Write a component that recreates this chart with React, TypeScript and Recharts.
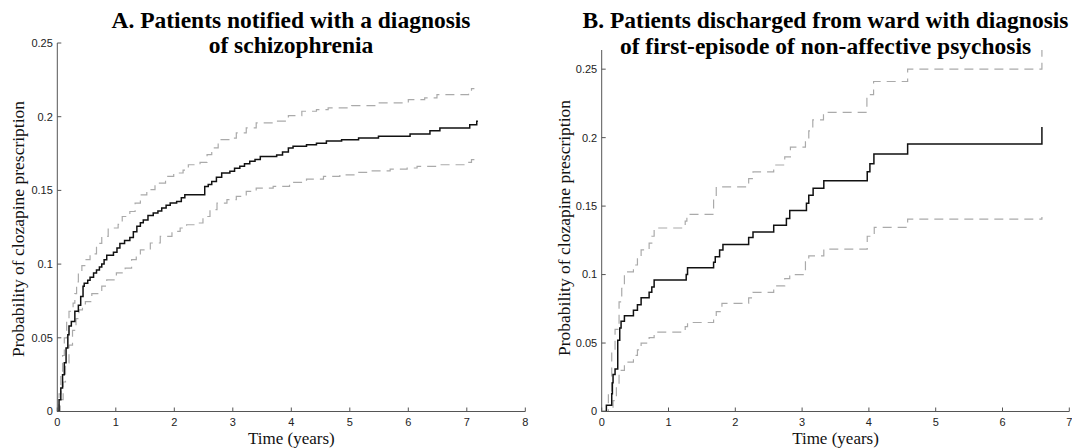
import React from 'react';
import { LineChart, Line, XAxis, YAxis } from 'recharts';

type Pt = [number, number];

// Panel A: patients notified with a diagnosis of schizophrenia
const aEstimate: Pt[] = [
  [0, 0], [0.03, 0.008], [0.06, 0.016], [0.09, 0.025], [0.12, 0.033], [0.15, 0.043], [0.18, 0.052],
  [0.2, 0.058], [0.24, 0.061], [0.3, 0.068], [0.36, 0.072], [0.4, 0.078], [0.44, 0.085], [0.46, 0.087],
  [0.52, 0.089], [0.56, 0.091], [0.62, 0.094], [0.67, 0.096], [0.72, 0.098], [0.76, 0.1], [0.8, 0.103],
  [0.845, 0.106], [0.96, 0.108], [1.02, 0.111], [1.07, 0.114], [1.15, 0.116], [1.24, 0.118], [1.3, 0.122],
  [1.36, 0.1256], [1.42, 0.128], [1.47, 0.13], [1.55, 0.133], [1.64, 0.1346], [1.72, 0.136], [1.785, 0.138],
  [1.86, 0.14], [1.93, 0.1414], [2.04, 0.1425], [2.12, 0.145], [2.18, 0.147], [2.52, 0.1527], [2.58, 0.154],
  [2.64, 0.156], [2.72, 0.159], [2.81, 0.1618], [2.95, 0.163], [3.03, 0.165], [3.12, 0.1663], [3.2, 0.168],
  [3.29, 0.1697], [3.38, 0.171], [3.47, 0.173], [3.75, 0.174], [3.85, 0.176], [3.95, 0.1788], [4.03, 0.18],
  [4.26, 0.181], [4.43, 0.182], [4.6, 0.1835], [4.86, 0.1844], [5.15, 0.1855], [5.49, 0.1867], [6.03, 0.1883],
  [6.37, 0.1905], [6.54, 0.1924], [7.05, 0.1946], [7.17, 0.1969], [7.19, 0.1969],
];
const aUpper: Pt[] = [
  [0, 0], [0.03, 0.012], [0.06, 0.025], [0.09, 0.038], [0.12, 0.05], [0.16, 0.062], [0.2, 0.068],
  [0.27, 0.0735], [0.3, 0.08], [0.33, 0.088], [0.36, 0.094], [0.42, 0.099], [0.47, 0.103], [0.56, 0.107],
  [0.67, 0.114], [0.76, 0.1188], [0.87, 0.1245], [1.04, 0.127], [1.11, 0.1323], [1.24, 0.1357], [1.33, 0.1414],
  [1.42, 0.147], [1.53, 0.1505], [1.67, 0.155], [1.85, 0.1595], [1.99, 0.1618], [2.15, 0.1637], [2.24, 0.1674],
  [2.44, 0.169], [2.56, 0.1743], [2.64, 0.1788], [2.75, 0.1844], [2.95, 0.1855], [3.06, 0.189], [3.23, 0.1924],
  [3.4, 0.1958], [3.69, 0.197], [3.95, 0.2007], [4.18, 0.2037], [4.43, 0.2048], [4.63, 0.206], [5.03, 0.2075],
  [5.46, 0.2094], [6.0, 0.2116], [6.28, 0.2128], [6.49, 0.215], [7.03, 0.2173], [7.08, 0.219], [7.13, 0.219],
];
const aLower: Pt[] = [
  [0, 0], [0.05, 0.008], [0.1, 0.02], [0.14, 0.033], [0.2, 0.045], [0.26, 0.055], [0.32, 0.063], [0.37, 0.069],
  [0.43, 0.073], [0.48, 0.0746], [0.59, 0.08], [0.76, 0.085], [0.845, 0.0893], [1.01, 0.094], [1.16, 0.0973],
  [1.27, 0.103], [1.35, 0.106], [1.42, 0.1097], [1.59, 0.1143], [1.76, 0.1188], [1.96, 0.1222], [2.1, 0.1245],
  [2.21, 0.1267], [2.41, 0.1279], [2.49, 0.1323], [2.61, 0.1369], [2.73, 0.1414], [2.9, 0.1437], [3.06, 0.1459],
  [3.23, 0.1493], [3.4, 0.1516], [3.69, 0.1527], [3.97, 0.1555], [4.26, 0.1577], [4.55, 0.1595], [4.83, 0.1606],
  [5.12, 0.1622], [5.37, 0.1633], [5.69, 0.1645], [5.98, 0.1652], [6.15, 0.1663], [6.49, 0.1674], [7.0, 0.169],
  [7.08, 0.1709], [7.13, 0.1709],
];

// Panel B: patients discharged with first-episode non-affective psychosis
const bEstimate: Pt[] = [
  [0, 0], [0.07, 0.0045], [0.15, 0.013], [0.16, 0.021], [0.17, 0.027], [0.2, 0.031], [0.24, 0.052],
  [0.27, 0.061], [0.29, 0.066], [0.34, 0.07], [0.475, 0.074], [0.535, 0.078], [0.59, 0.083], [0.71, 0.087],
  [0.75, 0.091], [0.785, 0.096], [1.265, 0.1], [1.285, 0.105], [1.675, 0.109], [1.7, 0.113], [1.765, 0.118],
  [1.815, 0.122], [2.2, 0.127], [2.265, 0.131], [2.575, 0.136], [2.765, 0.141], [2.815, 0.1468], [3.065, 0.152],
  [3.1, 0.158], [3.165, 0.163], [3.325, 0.1685], [3.975, 0.175], [4.015, 0.181], [4.075, 0.188], [4.58, 0.1953],
  [6.59, 0.2077],
];
const bUpper: Pt[] = [
  [0, 0], [0.1, 0.013], [0.15, 0.045], [0.2, 0.06], [0.26, 0.08], [0.3, 0.09], [0.34, 0.102], [0.475, 0.107],
  [0.535, 0.113], [0.59, 0.118], [0.71, 0.123], [0.75, 0.128], [0.785, 0.134], [1.25, 0.139], [1.275, 0.144],
  [1.675, 0.155], [1.715, 0.164], [2.2, 0.17], [2.265, 0.175], [2.575, 0.18], [2.74, 0.186], [2.825, 0.193],
  [3.05, 0.199], [3.1, 0.205], [3.16, 0.213], [3.32, 0.2184], [3.97, 0.2314], [4.07, 0.241], [4.58, 0.25],
  [6.59, 0.264],
];
const bLower: Pt[] = [
  [0, 0], [0.15, 0.0], [0.17, 0.008], [0.22, 0.02], [0.26, 0.03], [0.34, 0.036], [0.475, 0.041], [0.535, 0.045],
  [0.59, 0.05], [0.71, 0.054], [0.785, 0.058], [1.25, 0.062], [1.285, 0.065], [1.675, 0.069], [1.715, 0.073],
  [1.8, 0.079], [2.2, 0.083], [2.265, 0.087], [2.575, 0.0917], [2.74, 0.097], [2.815, 0.1], [3.05, 0.11],
  [3.1, 0.1137], [3.325, 0.1186], [3.975, 0.128], [4.08, 0.1344], [4.58, 0.1405], [6.59, 0.142],
];

const aXTicks = [0, 1, 2, 3, 4, 5, 6, 7, 8];
const bXTicks = [0, 1, 2, 3, 4, 5, 6, 7];
const yTicks = [0, 0.05, 0.1, 0.15, 0.2, 0.25];
const titleA = ['A. Patients notified with a diagnosis', 'of schizophrenia'];
const titleB = ['B. Patients discharged from ward with diagnosis', 'of first-episode of non-affective psychosis'];
const yLabel = 'Probability of clozapine prescription';
const xLabel = 'Time (years)';

const toRows = (pts: Pt[]) => pts.map(([x, y]) => ({ x, y }));

const AXIS = '#555';
const TICK_FONT = { fill: '#222', fontSize: 11, fontFamily: '"Liberation Sans", Arial, sans-serif' };
const SERIF = '"Liberation Serif", "Times New Roman", serif';

interface PanelProps {
  left: number;
  width: number;
  plotLeft: number;
  plotRight: number;
  plotTop: number;
  plotBottom: number;
  xMax: number;
  yMax: number;
  xTicks: number[];
  est: Pt[];
  up: Pt[];
  lo: Pt[];
}

function Panel(p: PanelProps) {
  return (
    <div style={{ position: 'absolute', left: p.left, top: 0 }}>
      <LineChart
        width={p.width}
        height={448}
        margin={{ top: p.plotTop, right: p.width - p.plotRight, bottom: 0, left: 0 }}
      >
        <XAxis
          type="number"
          dataKey="x"
          domain={[0, p.xMax]}
          ticks={p.xTicks}
          interval={0}
          height={448 - p.plotBottom}
          axisLine={{ stroke: AXIS }}
          tickLine={{ stroke: AXIS }}
          tickSize={-4}
          tickMargin={11}
          tick={TICK_FONT}
          allowDataOverflow
        />
        <YAxis
          type="number"
          domain={[0, p.yMax]}
          ticks={yTicks}
          interval={0}
          width={p.plotLeft}
          axisLine={{ stroke: AXIS }}
          tickLine={{ stroke: AXIS }}
          tickSize={-4}
          tickMargin={8.5}
          tick={TICK_FONT}
          tickFormatter={(v: number) => String(v)}
          allowDataOverflow
        />
        <Line data={toRows(p.up)} dataKey="y" type="stepAfter" stroke="#aaaaaa" strokeWidth={1.2}
          strokeDasharray="9 6" dot={false} activeDot={false} isAnimationActive={false} />
        <Line data={toRows(p.lo)} dataKey="y" type="stepAfter" stroke="#aaaaaa" strokeWidth={1.2}
          strokeDasharray="9 6" dot={false} activeDot={false} isAnimationActive={false} />
        <Line data={toRows(p.est)} dataKey="y" type="stepAfter" stroke="#111" strokeWidth={1.5}
          dot={false} activeDot={false} isAnimationActive={false} />
      </LineChart>
    </div>
  );
}

export default function App() {
  return (
    <div style={{ position: 'absolute', left: 0, top: 0, width: 1072, height: 448, background: '#fff', overflow: 'hidden' }}>
      <Panel left={0} width={540} plotLeft={57.3} plotRight={525.3} plotTop={43} plotBottom={411.5}
        xMax={8} yMax={0.25} xTicks={aXTicks} est={aEstimate} up={aUpper} lo={aLower} />
      <Panel left={540} width={532} plotLeft={61.7} plotRight={529.3} plotTop={50} plotBottom={411.5}
        xMax={7} yMax={0.264} xTicks={bXTicks} est={bEstimate} up={bUpper} lo={bLower} />
      <svg width={1072} height={448} style={{ position: 'absolute', left: 0, top: 0, pointerEvents: 'none' }}>
        <g fontFamily={SERIF} fontWeight="bold" fontSize={23.5} fill="#000" textAnchor="middle">
          <text x={291} y={28}>{titleA[0]}</text>
          <text x={291} y={52.5}>{titleA[1]}</text>
          <text x={825.5} y={28}>{titleB[0]}</text>
          <text x={825.5} y={53.5}>{titleB[1]}</text>
        </g>
        <g fontFamily={SERIF} fontSize={17.5} fill="#111" textAnchor="middle">
          <text transform="translate(23.5,229) rotate(-90)">{yLabel}</text>
          <text transform="translate(570,228) rotate(-90)">{yLabel}</text>
        </g>
        <g fontFamily={SERIF} fontSize={17} fill="#111" textAnchor="middle">
          <text x={291.3} y={444.3}>{xLabel}</text>
          <text x={835.5} y={444.3}>{xLabel}</text>
        </g>
      </svg>
    </div>
  );
}
